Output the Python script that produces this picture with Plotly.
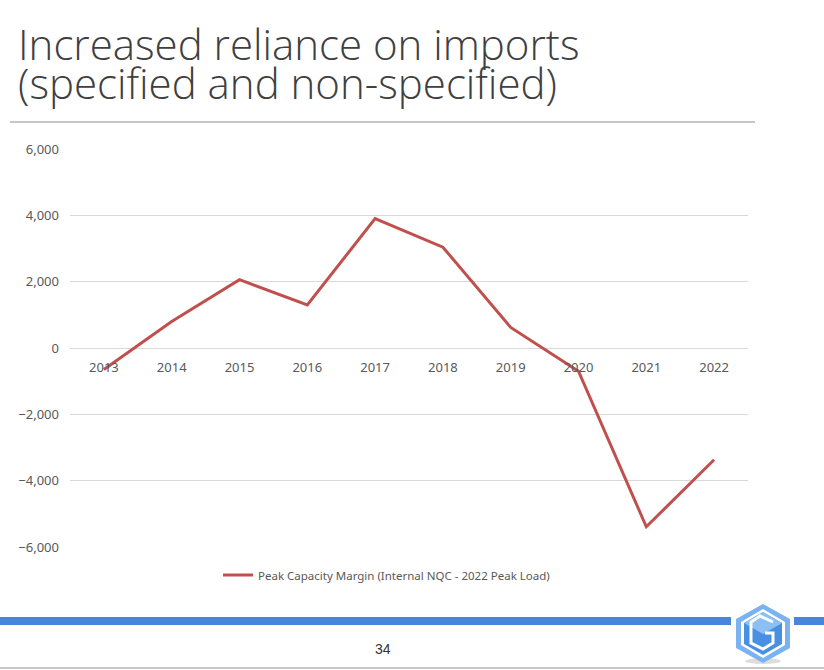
import plotly.graph_objects as go

years = ["2013", "2014", "2015", "2016", "2017", "2018", "2019", "2020", "2021", "2022"]
margin_mw = [-650, 800, 2060, 1300, 3900, 3040, 620, -700, -5390, -3370]
series_name = "Peak Capacity Margin (Internal NQC - 2022 Peak Load)"
y_ticks = [-6000, -4000, -2000, 0, 2000, 4000, 6000]
title_lines = ["Increased reliance on imports", "(specified and non-specified)"]
page_number = "34"

W, H = 824, 670
L, R, T, B = 70, 748, 149, 547  # plot area in pixels


def px(x):
    return (x - L) / (R - L)


def py(y):
    return (B - y) / (B - T)


fig = go.Figure()
fig.add_trace(go.Scatter(
    x=years, y=margin_mw, mode="lines", name=series_name,
    line=dict(color="#C0504D", width=3),
    showlegend=True,
))

font_body = "Noto Sans, Open Sans, sans-serif"
shapes = []
# rule under title
shapes.append(dict(type="line", xref="paper", yref="paper",
                   x0=px(10), x1=px(755), y0=py(122), y1=py(122),
                   line=dict(color="#8C8C8C", width=1)))
# bottom blue bars
shapes.append(dict(type="rect", xref="paper", yref="paper",
                   x0=px(0), x1=px(731), y0=py(625), y1=py(617),
                   line=dict(width=0), fillcolor="#4A86D8"))
shapes.append(dict(type="rect", xref="paper", yref="paper",
                   x0=px(794), x1=px(824), y0=py(625), y1=py(617),
                   line=dict(width=0), fillcolor="#4A86D8"))
# bottom gray line
shapes.append(dict(type="line", xref="paper", yref="paper",
                   x0=px(0), x1=px(824), y0=py(668), y1=py(668),
                   line=dict(color="#C8C8C8", width=2)))


def poly(points, fill, line_color=None, lw=0):
    d = "M " + " L ".join(f"{px(a):.5f},{py(b):.5f}" for a, b in points) + " Z"
    return dict(type="path", xref="paper", yref="paper", path=d,
                fillcolor=fill, line=dict(color=line_color or fill, width=lw))


cx, cy = 763, 633
# shadow
shapes.append(dict(type="circle", xref="paper", yref="paper",
                   x0=px(745), x1=px(781), y0=py(664), y1=py(658),
                   fillcolor="rgba(120,120,120,0.25)", line=dict(width=0)))
# outer hexagon
hexo = [(cx, 604), (cx + 27, 619), (cx + 27, 648), (cx, 663), (cx - 27, 648), (cx - 27, 619)]
shapes.append(poly(hexo, "#7AB2F2"))
hexi = [(cx, 609), (cx + 22, 622), (cx + 22, 645), (cx, 658), (cx - 22, 645), (cx - 22, 622)]
shapes.append(poly(hexi, "#FFFFFF"))
hexc = [(cx, 612), (cx + 19, 623), (cx + 19, 644), (cx, 655), (cx - 19, 644), (cx - 19, 623)]
shapes.append(poly(hexc, "#4A90E2"))
# top face lighter
shapes.append(poly([(cx, 612), (cx + 19, 623), (cx, 634), (cx - 19, 623)], "#8CC0F5"))
# G strokes
gpath = [(cx + 10, 622), (cx - 3, 616), (cx - 12, 622), (cx - 12, 643), (cx, 649),
         (cx + 10, 643), (cx + 10, 633), (cx + 2, 633)]
d = "M " + " L ".join(f"{px(a):.5f},{py(b):.5f}" for a, b in gpath)
shapes.append(dict(type="path", xref="paper", yref="paper", path=d,
                   line=dict(color="#FFFFFF", width=3)))

title_font = dict(family="Open Sans, Lato, sans-serif", size=42, color="#404040", weight=300)
annotations = [
    dict(text=title_lines[0], xref="paper", yref="paper", x=px(16), y=py(43),
         xanchor="left", yanchor="middle", showarrow=False, font=title_font),
    dict(text=title_lines[1], xref="paper", yref="paper", x=px(16), y=py(82),
         xanchor="left", yanchor="middle", showarrow=False, font=title_font),
    dict(text=page_number, xref="paper", yref="paper", x=px(383), y=py(649),
         xanchor="center", yanchor="middle", showarrow=False,
         font=dict(family="Liberation Sans Narrow, Liberation Sans, sans-serif", size=14, color="#333333")),
]

fig.update_layout(
    width=W, height=H,
    margin=dict(l=L, r=W - R, t=T, b=H - B, pad=0),
    paper_bgcolor="white", plot_bgcolor="white",
    shapes=shapes, annotations=annotations,
    showlegend=True,
    legend=dict(orientation="h", x=px(218), y=py(575), xanchor="left", yanchor="middle",
                font=dict(family=font_body, size=11.5, color="#595959"),
                bgcolor="rgba(0,0,0,0)"),
    xaxis=dict(type="category", range=[-0.5, 9.5], anchor="free", position=0.5,
               showgrid=False, showline=False, ticks="", zeroline=False,
               tickfont=dict(family=font_body, size=13, color="#595959"),
               ticklabelstandoff=10),
    yaxis=dict(range=[-6000, 6000], tickvals=y_ticks, tickformat=",",
               showgrid=True, gridcolor="#D9D9D9", gridwidth=1,
               zeroline=True, zerolinecolor="#D9D9D9", zerolinewidth=1,
               showline=False, ticks="",
               tickfont=dict(family=font_body, size=13, color="#595959"),
               ticklabelstandoff=10),
)

fig.write_html("out.html")
